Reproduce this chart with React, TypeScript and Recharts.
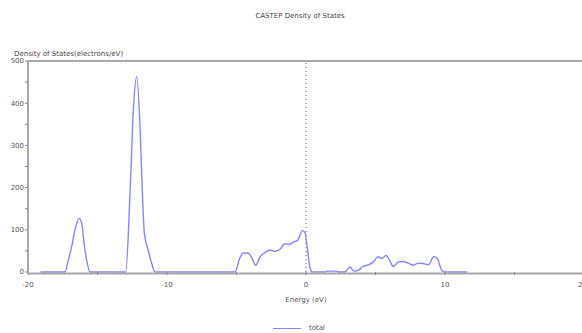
import React from "react";
import {
  Line,
  LineChart,
  XAxis,
  YAxis,
  ReferenceLine,
} from "recharts";

// energy (eV) and total DOS (electrons/eV)
const energy = [
  -19.1, -17.34, -17.1, -16.86, -16.62, -16.33, -16.14, -15.95, -15.78, -15.54,
  -12.97, -12.66, -12.42, -12.18, -11.94, -11.77, -11.63, -11.35, -11.1, -10.86,
  -5.11, -4.75, -4.51, -4.15, -3.91, -3.62, -3.31, -2.95, -2.59, -2.23, -1.87,
  -1.51, -1.22, -0.91, -0.6, -0.26, -0.07, 0.12, 0.29, 0.46,
  1.4, 1.5, 2.2, 2.3, 2.8, 3.17, 3.45, 3.77, 4.08, 4.5, 4.84, 5.2, 5.44, 5.76,
  6.04, 6.28, 6.64, 7.0, 7.36, 7.72, 8.08, 8.44, 8.8, 9.2, 9.45, 9.76, 10.0, 11.6,
];
const total = [
  0, 0, 28, 60, 100, 127, 116, 64, 28, 0,
  0, 186, 384, 463, 344, 186, 92, 51, 20, 0,
  0, 34, 45, 45, 34, 16, 36, 46, 52, 49, 54,
  67, 65, 71, 75, 98, 93, 50, 10, 0,
  0, 2, 2, 0, 0, 12, 2, 4, 13, 17, 24, 36, 32, 39,
  26, 13, 24, 25, 21, 16, 21, 20, 17, 36, 32, 4, 0, 0,
];
const xTicks = [-20, -15, -10, -5, 0, 5, 10, 15, 20];
const yTicks = [0, 50, 100, 150, 200, 250, 300, 350, 400, 450, 500];

const rows = energy.map((e, i) => ({ e, total: total[i] }));

const font = "'DejaVu Sans', sans-serif";
const axisGray = "#a8a8a8";
const lineBlue = "#8585ff";

export default function App() {
  return (
    <div style={{ position: "absolute", left: 0, top: 0, width: 582, height: 333, overflow: "hidden", background: "#fff" }}>
      <div style={{ position: "absolute", left: 0, top: 12, width: 600, textAlign: "center", fontFamily: font, fontSize: 7, color: "#444" }}>
        CASTEP Density of States
      </div>
      <div style={{ position: "absolute", left: 14, top: 50, fontFamily: font, fontSize: 7, color: "#444" }}>
        Density of States(electrons/eV)
      </div>
      <LineChart width={586} height={333} data={rows} margin={{ top: 61, right: 2, bottom: 41, left: 0 }}>
        <XAxis
          dataKey="e"
          type="number"
          domain={[-20, 20]}
          ticks={xTicks}
          tickFormatter={(v) => (v % 10 === 0 ? String(v) : "")}
          tick={{ fontSize: 7, fill: "#555", fontFamily: font }}
          tickSize={3}
          tickMargin={7}
          axisLine={{ stroke: axisGray, strokeWidth: 2, transform: "translate(0, 1.5)" }}
          tickLine={{ stroke: "#888" }}
          height={20}
          label={{ value: "Energy (eV)", position: "insideBottom", offset: -10, fontSize: 7, fill: "#555", fontFamily: font }}
        />
        <YAxis
          type="number"
          domain={[0, 500]}
          ticks={yTicks}
          tickFormatter={(v) => (v % 100 === 0 ? String(v) : "")}
          tick={{ fontSize: 7, fill: "#555", fontFamily: font }}
          tickSize={3}
          tickMargin={1}
          axisLine={{ stroke: axisGray, strokeWidth: 2 }}
          tickLine={{ stroke: "#888" }}
          width={28}
        />
        <ReferenceLine y={500} stroke={axisGray} strokeWidth={2} />
        <ReferenceLine x={0} stroke="#666" strokeDasharray="1 3" strokeWidth={1} />
        <Line
          type="monotone"
          dataKey="total"
          stroke={lineBlue}
          strokeWidth={1.4}
          dot={false}
          isAnimationActive={false}
        />
      </LineChart>
      <div style={{ position: "absolute", left: 0, top: 324, width: 598, display: "flex", alignItems: "center", justifyContent: "center", fontFamily: font, fontSize: 7, color: "#555" }}>
        <span style={{ display: "inline-block", width: 28, height: 0, borderTop: `1.5px solid ${lineBlue}`, marginRight: 8 }} />
        total
      </div>
    </div>
  );
}
